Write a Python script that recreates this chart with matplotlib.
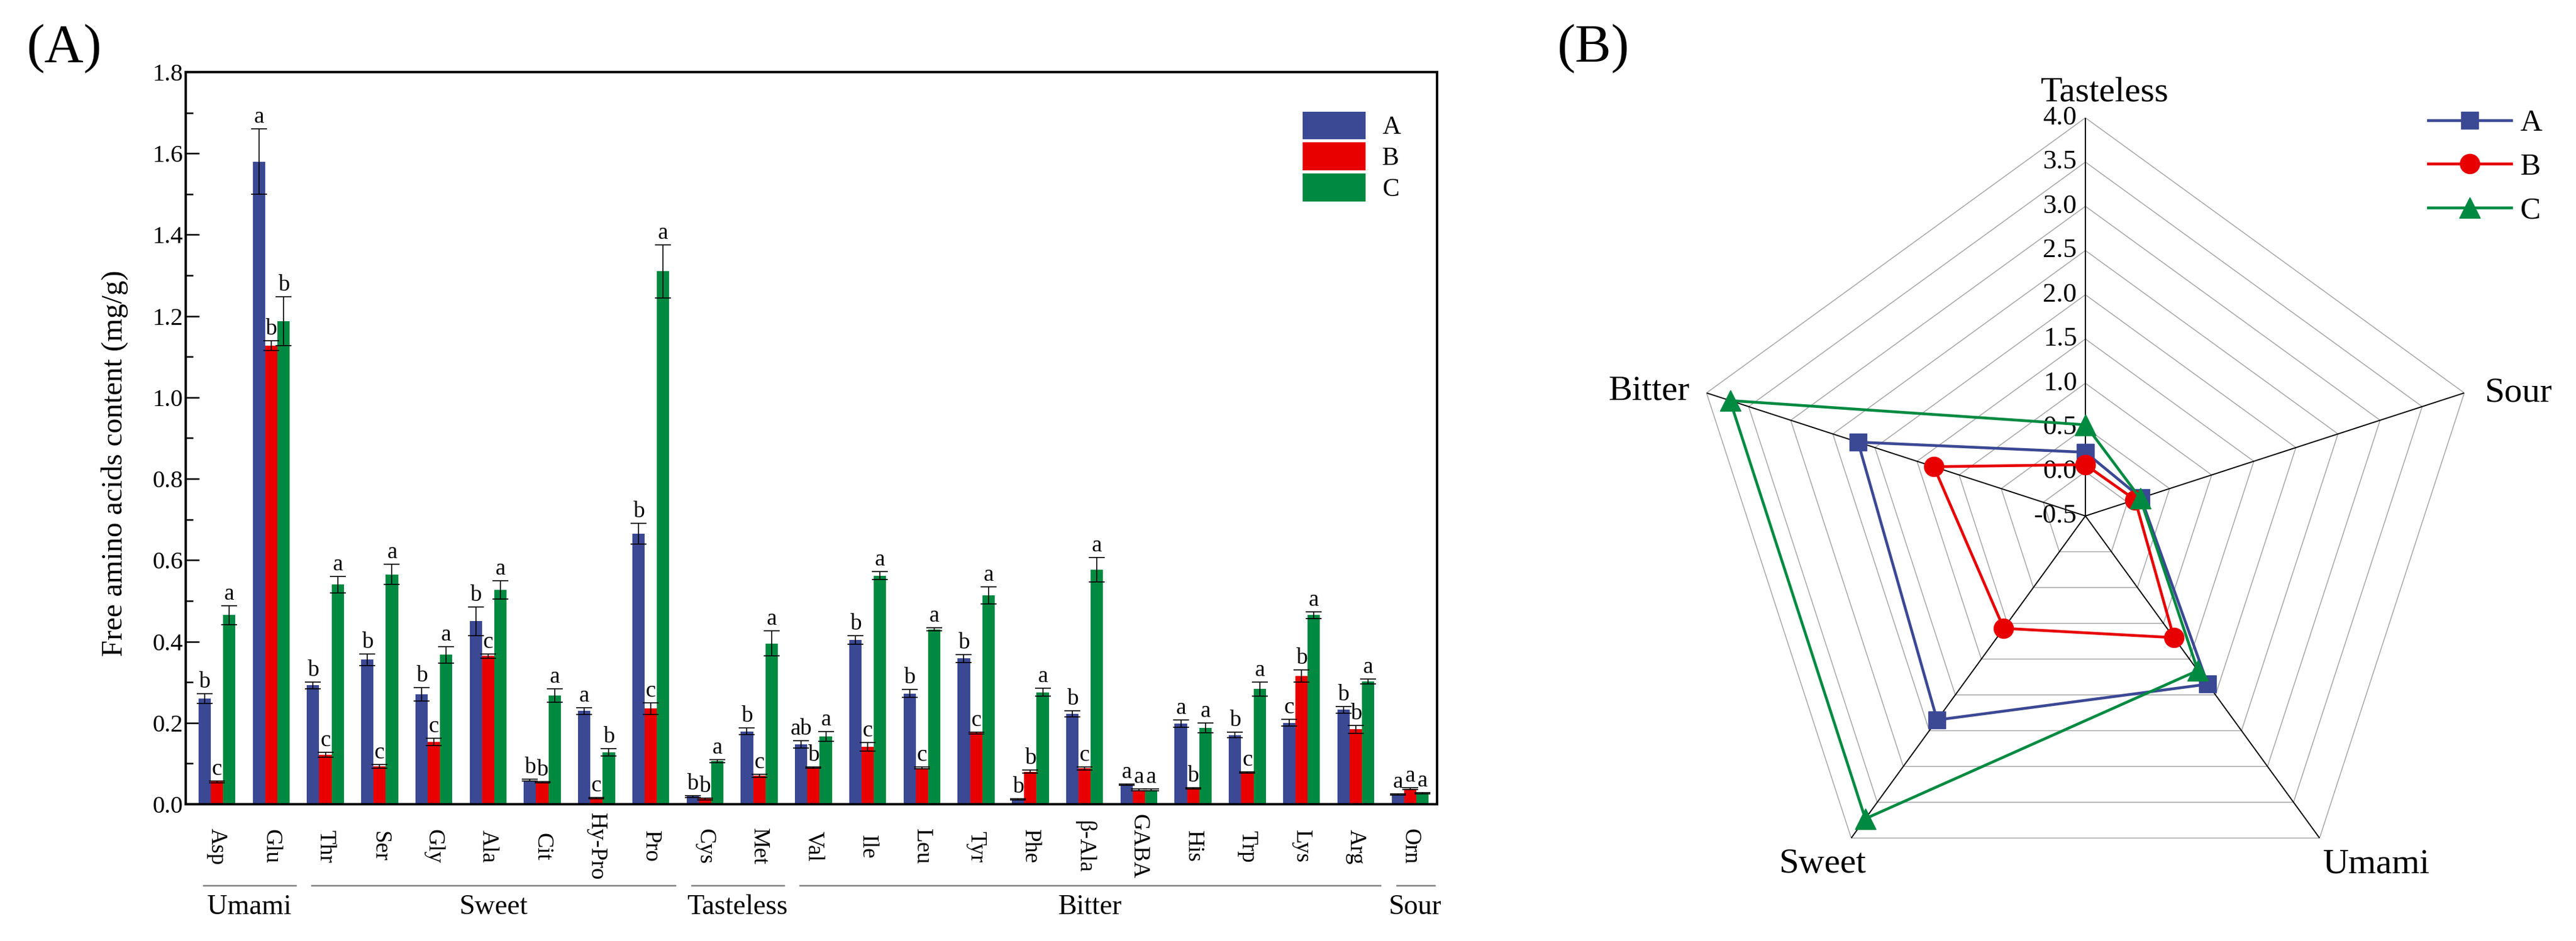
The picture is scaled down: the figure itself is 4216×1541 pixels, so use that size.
import numpy as np
import matplotlib
matplotlib.use("Agg")
import matplotlib.pyplot as plt
from matplotlib.ticker import MultipleLocator, FormatStrFormatter

plt.rcParams['font.family'] = ['Liberation Serif', 'DejaVu Serif']

# ---------------- data: free amino acids (mg/g) ----------------
amino = ['Asp', 'Glu', 'Thr', 'Ser', 'Gly', 'Ala', 'Cit', 'Hy-Pro', 'Pro',
         'Cys', 'Met', 'Val', 'Ile', 'Leu', 'Tyr', 'Phe', 'β-Ala', 'GABA',
         'His', 'Trp', 'Lys', 'Arg', 'Orn']

val_a = [0.26, 1.58, 0.292, 0.355, 0.27, 0.45, 0.059, 0.229, 0.665,
         0.019, 0.179, 0.147, 0.404, 0.272, 0.358, 0.012, 0.222, 0.048,
         0.198, 0.17, 0.2, 0.232, 0.024]
val_b = [0.055, 1.128, 0.122, 0.093, 0.153, 0.364, 0.054, 0.015, 0.235,
         0.013, 0.07, 0.09, 0.141, 0.089, 0.175, 0.08, 0.088, 0.035,
         0.039, 0.078, 0.315, 0.184, 0.038]
val_c = [0.465, 1.188, 0.54, 0.565, 0.367, 0.527, 0.267, 0.128, 1.31,
         0.106, 0.395, 0.167, 0.562, 0.43, 0.514, 0.275, 0.576, 0.035,
         0.188, 0.283, 0.465, 0.302, 0.027]

err_a = [0.012, 0.08, 0.008, 0.014, 0.017, 0.035, 0.002, 0.008, 0.026,
         0.002, 0.008, 0.009, 0.01, 0.01, 0.01, 0.002, 0.007, 0.002,
         0.009, 0.007, 0.008, 0.008, 0.002]
err_b = [0.002, 0.012, 0.006, 0.005, 0.009, 0.005, 0.002, 0.002, 0.014,
         0.002, 0.004, 0.002, 0.011, 0.002, 0.002, 0.004, 0.004, 0.002,
         0.002, 0.002, 0.015, 0.01, 0.002]
err_c = [0.023, 0.06, 0.02, 0.025, 0.02, 0.022, 0.016, 0.009, 0.065,
         0.004, 0.031, 0.012, 0.01, 0.004, 0.021, 0.01, 0.03, 0.002,
         0.012, 0.017, 0.008, 0.006, 0.002]

sig_a = ['b', 'a', 'b', 'b', 'b', 'b', 'b', 'a', 'b', 'b', 'b', 'ab', 'b', 'b',
         'b', 'b', 'b', 'a', 'a', 'b', 'c', 'b', 'a']
sig_b = ['c', 'b', 'c', 'c', 'c', 'c', 'b', 'c', 'c', 'b', 'c', 'b', 'c', 'c',
         'c', 'b', 'c', 'a', 'b', 'c', 'b', 'b', 'a']
sig_c = ['a', 'b', 'a', 'a', 'a', 'a', 'a', 'b', 'a', 'a', 'a', 'a', 'a', 'a',
         'a', 'a', 'a', 'a', 'a', 'a', 'a', 'a', 'a']

taste_groups = ['Umami', 'Sweet', 'Tasteless', 'Bitter', 'Sour']
group_first = [0, 2, 9, 11, 22]
group_last = [1, 8, 10, 21, 22]

# ---------------- data: taste radar ----------------
tastes = ['Tasteless', 'Sour', 'Umami', 'Sweet', 'Bitter']
radar_a = [0.22, 0.16, 1.85, 2.35, 2.20]
radar_b = [0.08, 0.09, 1.20, 1.07, 1.30]
radar_c = [0.53, 0.15, 1.66, 3.73, 3.72]

blue = '#3B4894'
red = '#E80000'
green = '#008A41'

fig = plt.figure(figsize=(42.16, 15.41), dpi=100)

# ================= (A) bar chart =================
ax = fig.add_axes([0.0721, 0.1454, 0.4858, 0.778])
x = np.arange(len(amino))
w = 0.227
series = [(val_a, err_a, sig_a, blue, 'A', -w),
          (val_b, err_b, sig_b, red, 'B', 0.0),
          (val_c, err_c, sig_c, green, 'C', w)]
for vals, errs, sigs, col, lab, off in series:
    ax.bar(x + off, vals, width=w, color=col, label=lab, zorder=2)
    ax.errorbar(x + off, vals, yerr=errs, fmt='none', ecolor='black',
                elinewidth=1.2, capsize=9.5, capthick=1.2, zorder=3)
    for xi, v, e, s in zip(x + off, vals, errs, sigs):
        ax.text(xi, v + e + 0.003, s, ha='center', va='bottom', fontsize=27)

ax.set_xlim(-0.575, 22.5)
ax.set_ylim(0, 1.8)
ax.yaxis.set_major_locator(MultipleLocator(0.2))
ax.yaxis.set_minor_locator(MultipleLocator(0.1))
ax.yaxis.set_major_formatter(FormatStrFormatter('%.1f'))
ax.tick_params(axis='y', which='major', direction='in', length=16, width=1.8,
               labelsize=29, pad=3)
ax.tick_params(axis='y', which='minor', direction='in', length=8.5, width=1.8)
ax.set_xticks(x)
ax.set_xticklabels(amino, rotation=-90, fontsize=27, va='center', ha='center')
ax.tick_params(axis='x', length=0, pad=50)
for sp in ax.spines.values():
    sp.set_linewidth(2.8)

ax.set_ylabel('Free amino acids content (mg/g)', fontsize=35)
ax.yaxis.set_label_coords(-0.046, 0.466)

# taste group brackets under the tick labels
bt = ax.get_xaxis_transform()
for name, i0, i1 in zip(taste_groups, group_first, group_last):
    xs = max(i0 - 0.25, -0.5)
    xe = min(i1 + 0.45, 22.48)
    ax.plot([xs, xe], [-0.111, -0.111], color='#7F7F7F', lw=1.8,
            clip_on=False, transform=bt)
    ax.text((xs + xe) / 2, -0.150, name, ha='center', va='baseline',
            fontsize=33, transform=bt)

ax.legend(loc='upper left', bbox_to_anchor=(0.8926, 0.946), frameon=False,
          fontsize=30, handlelength=2.47, handleheight=1.3, labelspacing=0.12,
          handletextpad=0.65, borderpad=0, borderaxespad=0)

fig.text(105 / 4216, 1 - 80 / 1541, '(A)', fontsize=64, ha='center', va='center')
fig.text(2607 / 4216, 1 - 80 / 1541, '(B)', fontsize=64, ha='center', va='center')

# ================= (B) radar chart =================
rax = fig.add_axes([0.6549, 0.0286, 0.3093, 0.8462], projection='polar')
rax.set_theta_zero_location('N')
rax.set_theta_direction(-1)
rmin, rmax = -0.5, 4.0
rax.set_ylim(rmin, rmax)
rax.set_xticks([])
rax.set_yticks([])
rax.grid(False)
rax.spines['polar'].set_visible(False)

ang = np.linspace(0, 2 * np.pi, len(tastes), endpoint=False)
ang_c = np.append(ang, ang[0])

rings = np.arange(0.0, 4.01, 0.5)
for r in rings:
    rax.plot(ang_c, np.full(len(ang_c), r), color='#A6A6A6', lw=1.1, zorder=1)
for a in ang:
    rax.plot([a, a], [rmin, rmax], color='black', lw=1.4, zorder=2)

for r in np.append(rmin, rings):
    rax.annotate(f'{r:.1f}', xy=(0, r), xytext=(-10, 0), textcoords='offset points',
                 ha='right', va='center', fontsize=32, zorder=3)

for vals, col, mk, ms, lab in [(radar_a, blue, 's', 20, 'A'),
                               (radar_b, red, 'o', 23, 'B'),
                               (radar_c, green, '^', 24, 'C')]:
    rax.plot(ang_c, np.append(vals, vals[0]), color=col, lw=3.3, marker=mk,
             markersize=ms, label=lab, zorder=4, clip_on=False)

lab_off = {'Tasteless': ((23, 20), 'center', 'baseline'),
           'Sour': ((24, 0), 'left', 'center'),
           'Umami': ((4, -12), 'left', 'top'),
           'Sweet': ((-34, -12), 'center', 'top'),
           'Bitter': ((-20, 2), 'right', 'center')}
for a, t in zip(ang, tastes):
    off, ha, va = lab_off[t]
    rax.annotate(t, xy=(a, rmax), xytext=off, textcoords='offset points',
                 ha=ha, va=va, fontsize=42, annotation_clip=False)

fig.legend(*rax.get_legend_handles_labels(), loc='upper left',
           bbox_to_anchor=(0.9425, 0.884), frameon=False, fontsize=36,
           handlelength=2.72, handletextpad=0.3, labelspacing=0.5,
           borderpad=0, borderaxespad=0)

fig.savefig('out.png', dpi=100, facecolor='white')
